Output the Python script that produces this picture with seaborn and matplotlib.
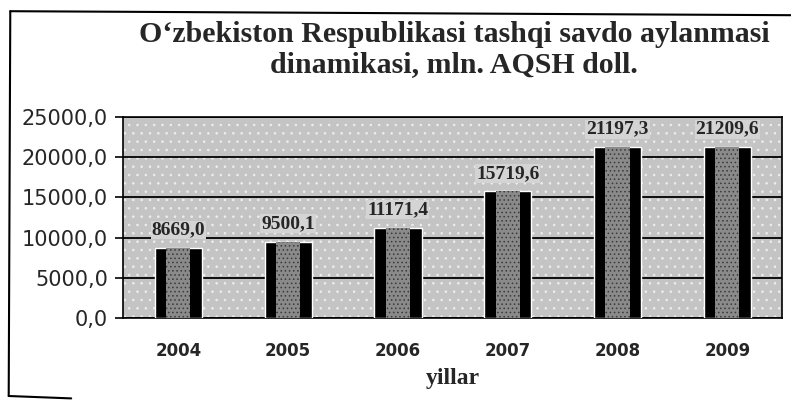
import matplotlib
matplotlib.use("Agg")
import matplotlib.pyplot as plt
import seaborn as sns
import pandas as pd
from matplotlib.lines import Line2D

years = ["2004", "2005", "2006", "2007", "2008", "2009"]
turnover = [8669.0, 9500.1, 11171.4, 15719.6, 21197.3, 21209.6]
y_ticks = [0, 5000, 10000, 15000, 20000, 25000]

title = "O\u2018zbekiston Respublikasi tashqi savdo aylanmasi\ndinamikasi, mln. AQSH doll."
x_label = "yillar"

sns.set_theme(style="white")
plt.rcParams["font.family"] = ["Liberation Serif", "DejaVu Serif"]
plt.rcParams["hatch.linewidth"] = 0.6

df = pd.DataFrame({"year": years, "value": turnover})

fig = plt.figure(figsize=(7.91, 4.00), dpi=100)
fig.patch.set_facecolor("white")
ax = fig.add_axes([0.156, 0.205, 0.833, 0.503])
ax.set_facecolor("#c4c4c4")
ax.patch.set_hatch("..")
ax.patch.set_edgecolor("#eeeeee")

# outer bars: dark frame
sns.barplot(data=df, x="year", y="value", color="black", width=0.43,
            saturation=1, ax=ax, zorder=3)
# inner bars: mottled grey core
sns.barplot(data=df, x="year", y="value", color="#8a8a8a", width=0.22,
            saturation=1, ax=ax, zorder=4)
for p in ax.patches[len(years):]:
    p.set_hatch("....")
    p.set_edgecolor("#3a3a3a")
    p.set_linewidth(0)

ax.set_ylim(0, 25000)
ax.set_yticks(y_ticks)
ax.set_yticklabels([f"{v:.1f}".replace(".", ",") for v in y_ticks],
                   fontsize=15, family=["DejaVu Sans"])
ax.set_xticks(range(len(years)))
ax.set_xticklabels(years, fontsize=12, family=["DejaVu Sans"], fontweight="bold")
ax.tick_params(axis="x", length=0, pad=17)
ax.tick_params(axis="y", length=6, width=1.2, color="black", direction="out", pad=5)
ax.set_xticks([i + 0.5 for i in range(len(years) - 1)], minor=True)
ax.tick_params(axis="x", which="minor", length=5, width=1.2, color="black", direction="out")
ax.yaxis.set_tick_params(left=True)

ax.grid(axis="y", color="black", linewidth=1.3, zorder=1)
ax.set_axisbelow(True)
for s in ["left", "bottom", "right", "top"]:
    ax.spines[s].set_visible(True)
    ax.spines[s].set_color("black")
    ax.spines[s].set_linewidth(1.2)

ax.set_xlabel(x_label, fontsize=17, fontweight="bold", labelpad=6)
ax.set_ylabel("")

for i, v in enumerate(turnover):
    ax.annotate(f"{v:.1f}".replace(".", ","), xy=(i, v), xytext=(0, 7),
                textcoords="offset points", ha="center", va="bottom",
                fontsize=14, fontweight="bold", zorder=6,
                bbox=dict(boxstyle="square,pad=0.05", fc="#d4d4d4", ec="none"))

fig.text(0.574, 0.877, title, ha="center", va="center", fontsize=21.5,
         fontweight="bold", linespacing=1.15)

# chart frame: left edge, top edge and the short stub at the bottom left
frame = dict(transform=fig.transFigure, color="black", lw=1.5)
fig.lines.append(Line2D([0.013, 0.011], [0.972, 0.010], **frame))
fig.lines.append(Line2D([0.013, 1.0], [0.972, 0.962], **frame))
fig.lines.append(Line2D([0.011, 0.090], [0.010, 0.004], **frame))

fig.savefig("out.png", dpi=100)
